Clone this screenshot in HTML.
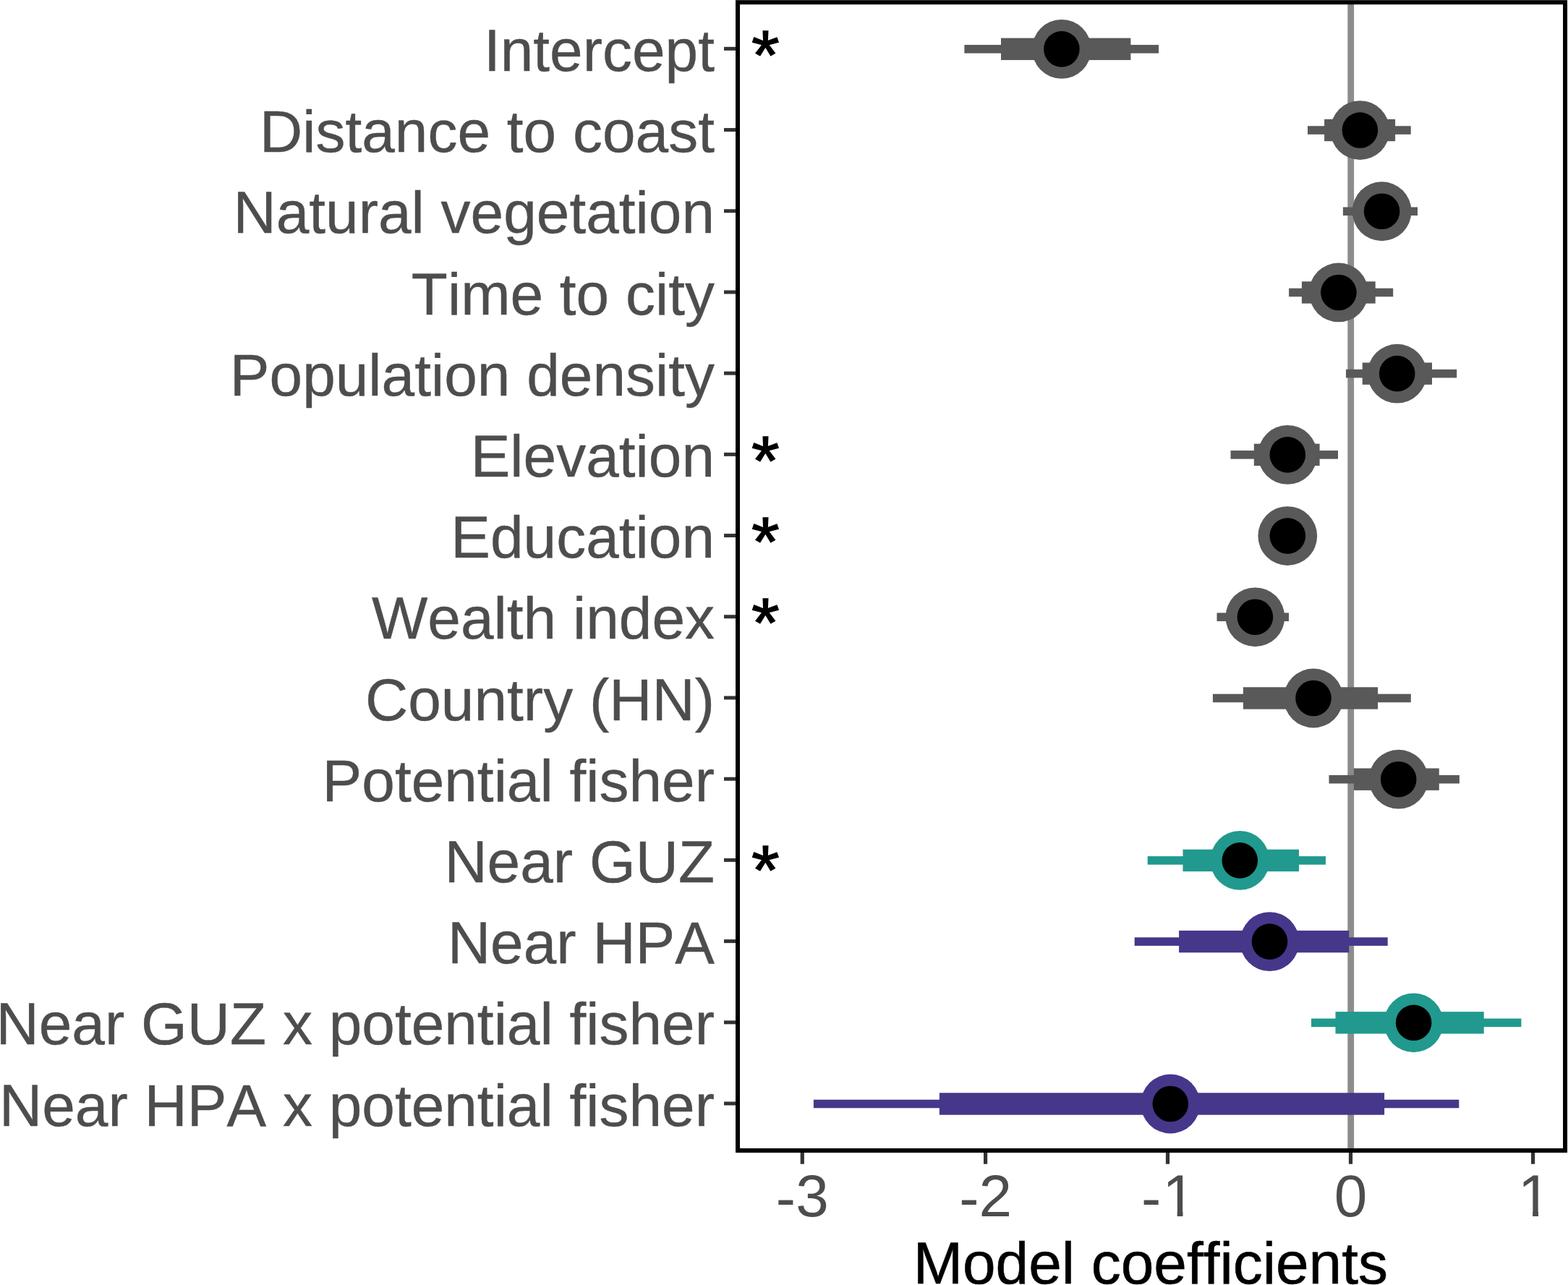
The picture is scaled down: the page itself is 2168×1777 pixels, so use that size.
<!DOCTYPE html>
<html lang="en"><head><meta charset="utf-8"><title>Model coefficients</title>
<style>html,body{margin:0;padding:0;background:#fff}body{width:2168px;height:1777px;overflow:hidden}svg{display:block}text{font-family:"Liberation Sans",Arial,Helvetica,sans-serif;font-kerning:none;stroke-linejoin:round}.lab{fill:#4D4D4D;stroke:#4D4D4D;stroke-width:0.4px}.num{fill:#4D4D4D;stroke:none}.ttl{fill:#000;stroke:#000;stroke-width:0.6px}.star{fill:#000;stroke:#000;stroke-width:1.4px;stroke-linejoin:miter}</style>
</head><body>
<svg width="2168" height="1777" viewBox="0 0 2168 1777">
<rect x="0" y="0" width="2168" height="1777" fill="#ffffff"/>
<rect x="1863.3" y="3" width="8.8" height="1588" fill="#8C8C8C"/>
<g>
<rect x="1333.4" y="62.05" width="268.6" height="11.6" fill="#595959"/>
<rect x="1384.0" y="52.65" width="179.4" height="30.4" fill="#595959"/>
<circle cx="1467.9" cy="67.85" r="40.9" fill="#595959"/>
<circle cx="1467.9" cy="67.85" r="24.8" fill="#000000"/>
</g>
<g>
<rect x="1808.0" y="174.25" width="142.7" height="11.6" fill="#595959"/>
<rect x="1831.1" y="164.86" width="98.0" height="30.4" fill="#595959"/>
<circle cx="1880.4" cy="180.06" r="40.9" fill="#595959"/>
<circle cx="1880.4" cy="180.06" r="24.8" fill="#000000"/>
</g>
<g>
<rect x="1856.9" y="286.46" width="103.1" height="11.6" fill="#595959"/>
<rect x="1880.0" y="277.06" width="61.0" height="30.4" fill="#595959"/>
<circle cx="1910.6" cy="292.26" r="40.9" fill="#595959"/>
<circle cx="1910.6" cy="292.26" r="24.8" fill="#000000"/>
</g>
<g>
<rect x="1782.1" y="398.67" width="144.1" height="11.6" fill="#595959"/>
<rect x="1799.9" y="389.27" width="101.8" height="30.4" fill="#595959"/>
<circle cx="1850.9" cy="404.47" r="40.9" fill="#595959"/>
<circle cx="1850.9" cy="404.47" r="24.8" fill="#000000"/>
</g>
<g>
<rect x="1861.0" y="510.87" width="153.2" height="11.6" fill="#595959"/>
<rect x="1883.7" y="501.47" width="96.3" height="30.4" fill="#595959"/>
<circle cx="1931.7" cy="516.67" r="40.9" fill="#595959"/>
<circle cx="1931.7" cy="516.67" r="24.8" fill="#000000"/>
</g>
<g>
<rect x="1701.5" y="623.08" width="148.5" height="11.6" fill="#595959"/>
<rect x="1733.8" y="613.67" width="90.8" height="30.4" fill="#595959"/>
<circle cx="1780.3" cy="628.88" r="40.9" fill="#595959"/>
<circle cx="1780.3" cy="628.88" r="24.8" fill="#000000"/>
</g>
<g>
<rect x="1752.0" y="735.28" width="57.0" height="11.6" fill="#595959"/>
<rect x="1762.0" y="725.88" width="37.0" height="30.4" fill="#595959"/>
<circle cx="1780.3" cy="741.08" r="40.9" fill="#595959"/>
<circle cx="1780.3" cy="741.08" r="24.8" fill="#000000"/>
</g>
<g>
<rect x="1682.5" y="847.49" width="99.5" height="11.6" fill="#595959"/>
<rect x="1705.0" y="838.08" width="60.0" height="30.4" fill="#595959"/>
<circle cx="1735.4" cy="853.28" r="40.9" fill="#595959"/>
<circle cx="1735.4" cy="853.28" r="24.8" fill="#000000"/>
</g>
<g>
<rect x="1676.9" y="959.69" width="273.9" height="11.6" fill="#595959"/>
<rect x="1718.9" y="950.29" width="186.2" height="30.4" fill="#595959"/>
<circle cx="1816.0" cy="965.49" r="40.9" fill="#595959"/>
<circle cx="1816.0" cy="965.49" r="24.8" fill="#000000"/>
</g>
<g>
<rect x="1837.5" y="1071.89" width="180.4" height="11.6" fill="#595959"/>
<rect x="1871.9" y="1062.49" width="117.9" height="30.4" fill="#595959"/>
<circle cx="1933.7" cy="1077.69" r="40.9" fill="#595959"/>
<circle cx="1933.7" cy="1077.69" r="24.8" fill="#000000"/>
</g>
<g>
<rect x="1586.7" y="1184.10" width="246.3" height="11.6" fill="#21998E"/>
<rect x="1635.5" y="1174.70" width="160.5" height="30.4" fill="#21998E"/>
<circle cx="1714.3" cy="1189.90" r="40.9" fill="#21998E"/>
<circle cx="1714.3" cy="1189.90" r="24.8" fill="#000000"/>
</g>
<g>
<rect x="1568.7" y="1296.30" width="350.0" height="11.6" fill="#46378A"/>
<rect x="1630.1" y="1286.90" width="235.1" height="30.4" fill="#46378A"/>
<circle cx="1755.5" cy="1302.10" r="40.9" fill="#46378A"/>
<circle cx="1755.5" cy="1302.10" r="24.8" fill="#000000"/>
</g>
<g>
<rect x="1813.0" y="1408.51" width="290.4" height="11.6" fill="#21998E"/>
<rect x="1846.5" y="1399.11" width="205.2" height="30.4" fill="#21998E"/>
<circle cx="1954.6" cy="1414.31" r="40.9" fill="#21998E"/>
<circle cx="1954.6" cy="1414.31" r="24.8" fill="#000000"/>
</g>
<g>
<rect x="1124.9" y="1520.71" width="892.4" height="11.6" fill="#46378A"/>
<rect x="1298.9" y="1511.31" width="615.2" height="30.4" fill="#46378A"/>
<circle cx="1618.3" cy="1526.51" r="40.9" fill="#46378A"/>
<circle cx="1618.3" cy="1526.51" r="24.8" fill="#000000"/>
</g>
<rect x="1020.05" y="3.2" width="1144" height="1587.8" fill="none" stroke="#000000" stroke-width="6"/>
<rect x="1001" y="64.85" width="16" height="5" fill="#333333"/>
<text class="lab" x="988" y="97.95" text-anchor="end" font-size="82">Intercept</text>
<text class="star" transform="translate(1058.3 108.60) scale(1 0.962)" x="0" y="0" text-anchor="middle" font-size="99.5">*</text>
<rect x="1001" y="177.06" width="16" height="5" fill="#333333"/>
<text class="lab" x="988" y="210.16" text-anchor="end" font-size="82">Distance to coast</text>
<rect x="1001" y="289.26" width="16" height="5" fill="#333333"/>
<text class="lab" x="988" y="322.36" text-anchor="end" font-size="82">Natural vegetation</text>
<rect x="1001" y="401.47" width="16" height="5" fill="#333333"/>
<text class="lab" x="988" y="434.57" text-anchor="end" font-size="82">Time to city</text>
<rect x="1001" y="513.67" width="16" height="5" fill="#333333"/>
<text class="lab" x="988" y="546.77" text-anchor="end" font-size="82">Population density</text>
<rect x="1001" y="625.88" width="16" height="5" fill="#333333"/>
<text class="lab" x="988" y="658.98" text-anchor="end" font-size="82">Elevation</text>
<text class="star" transform="translate(1058.3 669.95) scale(1 0.962)" x="0" y="0" text-anchor="middle" font-size="99.5">*</text>
<rect x="1001" y="738.08" width="16" height="5" fill="#333333"/>
<text class="lab" x="988" y="771.18" text-anchor="end" font-size="82">Education</text>
<text class="star" transform="translate(1058.3 782.05) scale(1 0.962)" x="0" y="0" text-anchor="middle" font-size="99.5">*</text>
<rect x="1001" y="850.28" width="16" height="5" fill="#333333"/>
<text class="lab" x="988" y="883.38" text-anchor="end" font-size="82">Wealth index</text>
<text class="star" transform="translate(1058.3 894.45) scale(1 0.962)" x="0" y="0" text-anchor="middle" font-size="99.5">*</text>
<rect x="1001" y="962.49" width="16" height="5" fill="#333333"/>
<text class="lab" x="988" y="995.59" text-anchor="end" font-size="82">Country (HN)</text>
<rect x="1001" y="1074.69" width="16" height="5" fill="#333333"/>
<text class="lab" x="988" y="1107.79" text-anchor="end" font-size="82">Potential fisher</text>
<rect x="1001" y="1186.90" width="16" height="5" fill="#333333"/>
<text class="lab" x="988" y="1220.00" text-anchor="end" font-size="82">Near GUZ</text>
<text class="star" transform="translate(1058.3 1236.25) scale(1 0.962)" x="0" y="0" text-anchor="middle" font-size="99.5">*</text>
<rect x="1001" y="1299.10" width="16" height="5" fill="#333333"/>
<text class="lab" x="988" y="1332.20" text-anchor="end" font-size="82">Near HPA</text>
<rect x="1001" y="1411.31" width="16" height="5" fill="#333333"/>
<text class="lab" x="988" y="1444.41" text-anchor="end" font-size="82">Near GUZ x potential fisher</text>
<rect x="1001" y="1523.51" width="16" height="5" fill="#333333"/>
<text class="lab" x="988" y="1556.61" text-anchor="end" font-size="82">Near HPA x potential fisher</text>
<rect x="1106.7" y="1594" width="5.2" height="15.7" fill="#333333"/>
<text class="num" font-size="82"><tspan x="1072.84" y="1684.5">-</tspan><tspan x="1100.15" y="1682.3">3</tspan></text>
<rect x="1360.0" y="1594" width="5.2" height="15.7" fill="#333333"/>
<text class="num" font-size="82"><tspan x="1326.14" y="1684.5">-</tspan><tspan x="1353.45" y="1682.3">2</tspan></text>
<rect x="1611.9" y="1594" width="5.2" height="15.7" fill="#333333"/>
<clipPath id="c2"><rect x="1514.5" y="1600" width="200" height="76.00"/><rect x="1627.67" y="1675.50" width="7.85" height="12"/></clipPath>
<text class="num" font-size="82" clip-path="url(#c2)"><tspan x="1578.04" y="1684.5">-</tspan><tspan x="1607.35" y="1682.3">1</tspan></text>
<rect x="1864.9" y="1594" width="5.2" height="15.7" fill="#333333"/>
<text class="num" font-size="82"><tspan x="1844.70" y="1682.3">0</tspan></text>
<rect x="2117.0" y="1594" width="5.2" height="15.7" fill="#333333"/>
<clipPath id="c4"><rect x="2019.6" y="1600" width="200" height="76.00"/><rect x="2119.12" y="1675.50" width="7.85" height="12"/></clipPath>
<text class="num" font-size="82" clip-path="url(#c4)"><tspan x="2098.80" y="1682.3">1</tspan></text>
<text class="ttl" x="1590.8" y="1774.7" text-anchor="middle" font-size="82">Model coefficients</text>
</svg>
</body></html>
